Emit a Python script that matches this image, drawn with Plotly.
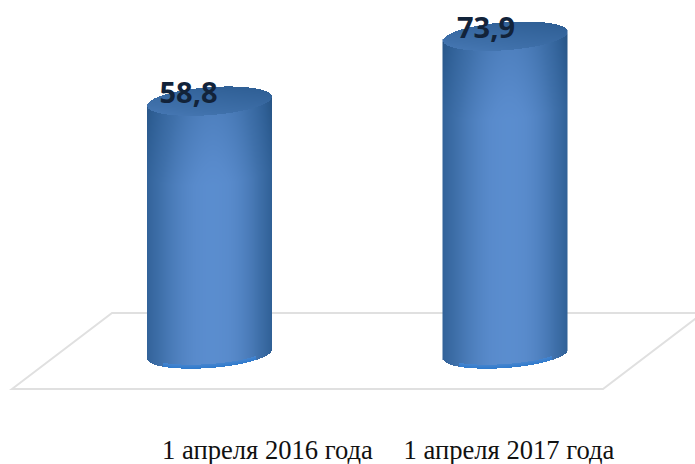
import numpy as np
import plotly.graph_objects as go

# chart data
categories = ["1 апреля 2016 года", "1 апреля 2017 года"]
values = [58.8, 73.9]
value_labels = ["58,8", "73,9"]

WIDTH, HEIGHT = 695, 464
BOTTOM_MARGIN = 33
BASE_PX = 354       # pixel row of the value 0
PX_PER_UNIT = 4.3

CENTERS = [209.5, 505]
TICK_POS = [267.5, 509]
LABEL_SHIFT = [-21, -19]
RADIUS = 62.5
CAP_HALF = 14
TILT = 4.5

# 0..1 = shade of the cylinder, above 1 = bright rim at the bottom edge
SCALE = [
    [0.0, "#24507f"],
    [0.2, "#2f5f95"],
    [0.45, "#3f70aa"],
    [0.75, "#588acb"],
    [0.82, "#5b8ed0"],
    [1.0, "#2a78cc"],
]
Z_MAX = 1.0


def cylinder(center, value):
    xs = np.arange(center - RADIUS + 0.5, center + RADIUS, 1.0)
    top_px = value * PX_PER_UNIT
    ys_px = np.arange(-CAP_HALF - TILT - 2, top_px + CAP_HALF + TILT + 2, 1.0)
    xx, yy = np.meshgrid(xs, ys_px)
    t = (xx - center) / RADIUS
    arc = np.sqrt(np.clip(1 - t ** 2, 0, 1))
    low = TILT * t - CAP_HALF * arc
    cap_mid = top_px + TILT * t
    cap_low = cap_mid - CAP_HALF * arc
    cap_high = cap_mid + CAP_HALF * arc

    # horizontal shading of the side, brightest a little right of the middle
    side = 0.80 - 0.50 * np.abs(t - 0.05) ** 1.9
    side = side - 0.14 * np.clip(t, 0, 1) ** 3
    under_cap = np.clip((cap_low - yy) / 70, 0, 1)
    side = side - 0.16 * (1 - under_cap)
    z = side.copy()

    # bright rim along the front of the bottom edge
    rim = (yy - low < 4) & (np.abs(t) < 0.75)
    z[rim] = 0.90 + 0.08 * (1 - (yy - low)[rim] / 4)

    # cap is flatter and darker towards its back right
    cap = (yy >= cap_low) & (yy <= cap_high)
    cap_shade = 0.36 - 0.10 * t - 0.12 * (yy - cap_mid) / CAP_HALF
    z[cap] = cap_shade[cap]

    z[(yy < low) | (yy > cap_high)] = np.nan
    return xs, ys_px / PX_PER_UNIT, z


fig = go.Figure()

for center, value in zip(CENTERS, values):
    xs, ys, z = cylinder(center, value)
    fig.add_trace(
        go.Heatmap(
            x=xs,
            y=ys,
            z=z,
            zmin=0,
            zmax=Z_MAX,
            colorscale=SCALE,
            showscale=False,
            hoverinfo="skip",
        )
    )

fig.add_trace(
    go.Scatter(
        x=[c + s for c, s in zip(CENTERS, LABEL_SHIFT)],
        y=[v + 1.2 for v in values],
        mode="text",
        text=value_labels,
        textposition="middle center",
        textfont=dict(family="Open Sans", size=29, color="#12233a", weight="bold"),
        hoverinfo="skip",
    )
)

# floor plate of the 3D chart
floor_px = [(12, 389), (112, 313), (703, 313), (603, 389), (12, 389)]
fig.add_shape(
    type="path",
    path="M " + " L ".join(f"{x},{(BASE_PX - y) / PX_PER_UNIT}" for x, y in floor_px) + " Z",
    line=dict(color="#e0e0e0", width=2),
    layer="below",
)

fig.update_layout(
    width=WIDTH,
    height=HEIGHT,
    margin=dict(l=0, r=0, t=0, b=BOTTOM_MARGIN),
    paper_bgcolor="white",
    plot_bgcolor="white",
    showlegend=False,
    xaxis=dict(
        range=[0, WIDTH],
        tickmode="array",
        tickvals=TICK_POS,
        ticktext=categories,
        ticks="",
        showgrid=False,
        zeroline=False,
        showline=False,
        automargin=False,
        tickfont=dict(family="Liberation Serif", size=26.6, color="#111111"),
    ),
    yaxis=dict(
        range=[(BASE_PX - (HEIGHT - BOTTOM_MARGIN)) / PX_PER_UNIT, BASE_PX / PX_PER_UNIT],
        showticklabels=False,
        ticks="",
        showgrid=False,
        zeroline=False,
        showline=False,
        automargin=False,
    ),
)

fig.write_html(
    "out.html",
    config=dict(displayModeBar=False),
    post_script="document.body.style.margin='0';",
)
